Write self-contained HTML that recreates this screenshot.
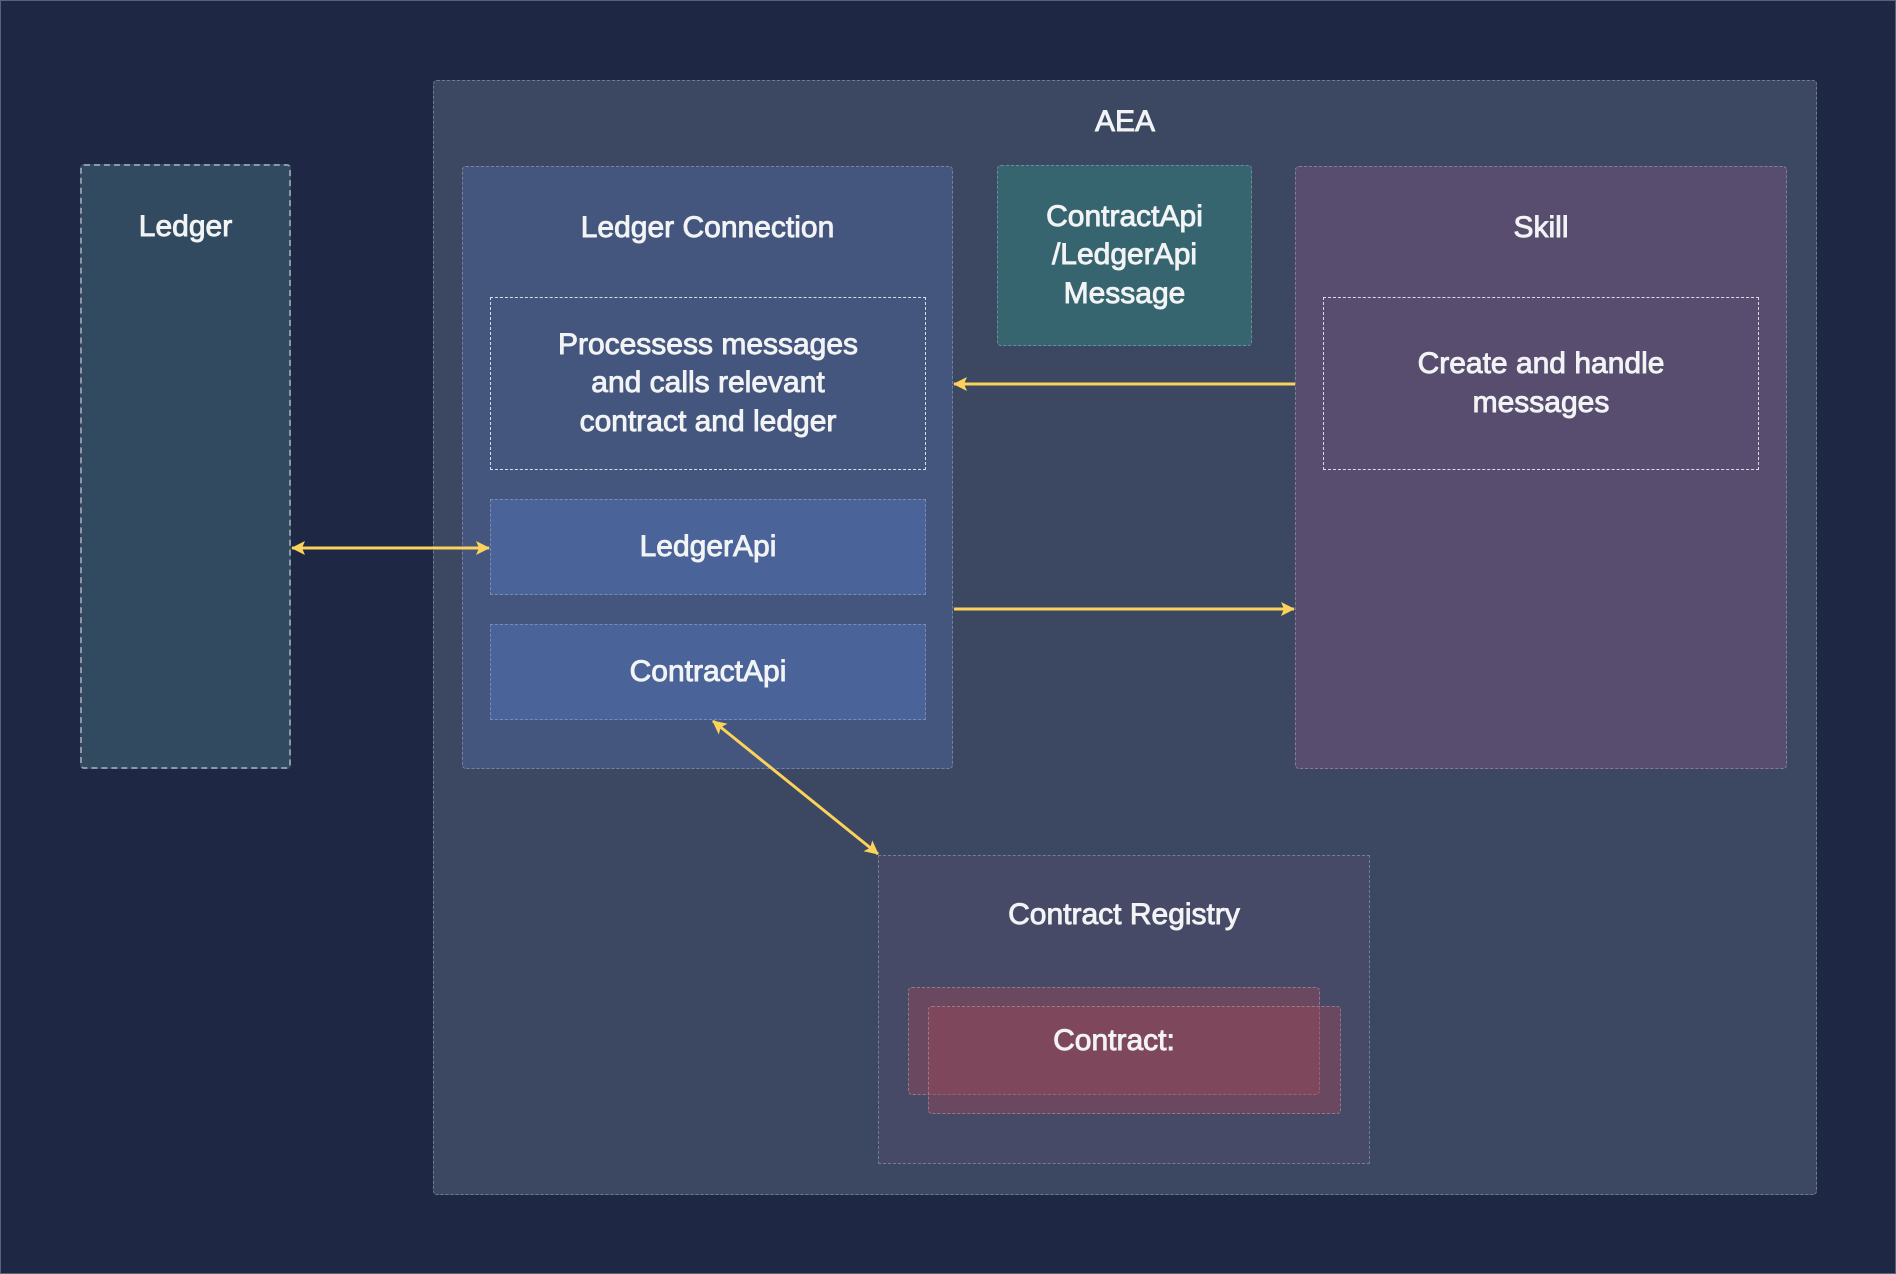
<!DOCTYPE html>
<html><head><meta charset="utf-8"><style>
html,body{margin:0;padding:0}
body{width:1896px;height:1274px;background:#1e2743;position:relative;overflow:hidden;font-family:"Liberation Sans",sans-serif;color:#f2f3f5}
.b{position:absolute;box-sizing:border-box;border:1.5px dashed rgba(200,205,215,0.38);border-radius:4px}
.t{position:absolute;left:0;right:0;text-align:center;font-size:30px;-webkit-text-stroke:0.9px #f2f3f5;line-height:38px}
.c{display:flex;align-items:center;justify-content:center;text-align:center;font-size:30px;-webkit-text-stroke:0.9px #f2f3f5;line-height:38.5px}
</style></head><body>
<div style="position:absolute;inset:0;border:1px solid #5a6278;box-sizing:border-box"></div>
<div class="b" style="left:80px;top:164px;width:211px;height:605px;background:#324a5f;border:2px dashed rgba(200,205,215,0.6)"><div class="t" style="top:42px">Ledger</div></div>
<div class="b" style="left:433px;top:80px;width:1384px;height:1115px;background:#3c4861"><div class="t" style="top:22px">AEA</div></div>
<div class="b" style="left:462px;top:166px;width:491px;height:603px;background:#44567e"><div class="t" style="top:42px">Ledger Connection</div></div>
<div class="b c" style="left:490px;top:297px;width:436px;height:173px;border:1.5px dashed rgba(255,255,255,0.8);border-radius:0">Processess messages<br>and calls relevant<br>contract and ledger</div>
<div class="b c" style="left:490px;top:499px;width:436px;height:96px;background:#4a6399;border-radius:0">LedgerApi</div>
<div class="b c" style="left:490px;top:624px;width:436px;height:96px;background:#4a6399;border-radius:0">ContractApi</div>
<div class="b c" style="left:997px;top:165px;width:255px;height:181px;background:#36656f">ContractApi<br>/LedgerApi<br>Message</div>
<div class="b" style="left:1295px;top:166px;width:492px;height:603px;background:#584d6e"><div class="t" style="top:42px">Skill</div></div>
<div class="b c" style="left:1323px;top:297px;width:436px;height:173px;border:1.5px dashed rgba(255,255,255,0.8);border-radius:0">Create and handle<br>messages</div>
<div class="b" style="left:878px;top:855px;width:492px;height:309px;background:#474a66;border-radius:0"><div class="t" style="top:40px">Contract Registry</div></div>
<div class="b" style="left:908px;top:987px;width:412px;height:108px;background:rgba(160,70,85,0.4)"></div>
<div class="b" style="left:928px;top:1006px;width:413px;height:108px;background:rgba(160,70,85,0.4)"></div>
<div class="c" style="position:absolute;left:908px;top:1006px;width:412px;height:70px;font-size:30px">Contract:</div>
<svg width="1896" height="1274" style="position:absolute;left:0;top:0">
<defs><marker id="m" markerWidth="14" markerHeight="14" refX="13" refY="7" orient="auto-start-reverse" markerUnits="userSpaceOnUse"><path d="M0,0 L14,7 L0,14 L3,7 Z" fill="#fcd25b"/></marker></defs>
<g stroke="#fcd25b" stroke-width="3" fill="none">
<line x1="292" y1="548" x2="489" y2="548" marker-start="url(#m)" marker-end="url(#m)"/>
<line x1="1295" y1="384" x2="954" y2="384" marker-end="url(#m)"/>
<line x1="954" y1="609" x2="1294" y2="609" marker-end="url(#m)"/>
<line x1="713" y1="721" x2="878" y2="854" marker-start="url(#m)" marker-end="url(#m)"/>
</g></svg>
</body></html>
